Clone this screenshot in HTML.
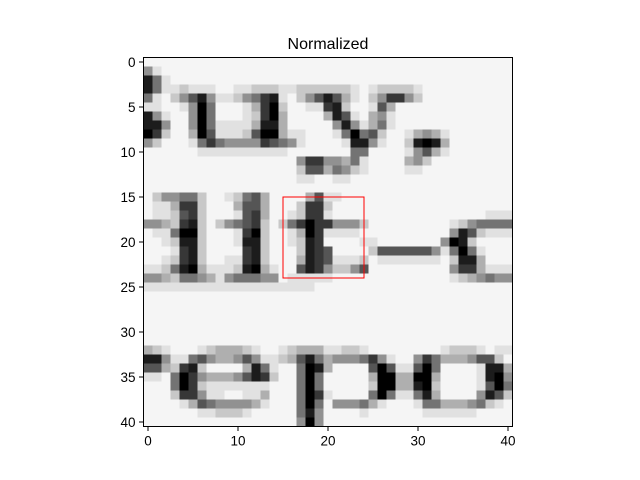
<!DOCTYPE html>
<html><head><meta charset="utf-8"><style>
html,body{margin:0;padding:0;background:#fff;width:640px;height:480px;overflow:hidden}
svg text{font-family:"Liberation Sans","DejaVu Sans",sans-serif;fill:#000}
</style></head><body>
<svg id="chart" width="640" height="480" xmlns="http://www.w3.org/2000/svg">
<text x="328" y="49" font-size="16" text-anchor="middle">Normalized</text>
<g id="cells" shape-rendering="crispEdges"></g>
<g id="axes"></g>
</svg>
<script>
// pixel intensity levels (0=black .. 9=white), one string per image row
const rows = [
"99999999999999999999999999999999999999999",
"58999999999999999999999999999999999999999",
"14899999999999999999999999999999999999999",
"14887888998877788777777898777789999999999",
"48975315887542189753136897522579999999999",
"88998504999862079988217998369999999999999",
"15899504999872069999613896589999999999999",
"11599504888861169999951586489999999999999",
"02799603888730068899984043799865689999999",
"57999842455552345899998115899710169999999",
"99999988888888889999999449999853689999999",
"99999999999999999522556489999657999999999",
"99999999999999999733645789999889999999999",
"99999999999999999889988999999999999999999",
"99999999999999999999999999999999999999999",
"97554479987436999963889999999999999999999",
"98862279996336999722799999999999999999999",
"98873279998326998722899999999999999999888",
"55672179754327974202255579999999998754444",
"98840079998207998602888899999999995137888",
"99871179998117998712999988999999950179999",
"99982179999217999712399997333333584048999",
"99872179988217999612388879888888897116999",
"88741068887106899312577539999999995226888",
"55674456854445598888899999999999998765455",
"88888888888888888889999999999999999999999",
"99999999999999999999999999999999999999999",
"99999999999999999999999999999999999999999",
"99999999999999999999999999999999999999999",
"99999999999999999999999999999999999999999",
"99999999999999999999999999999999999999999",
"99999999999999999999999999999999999999999",
"67899987666789987666887789999999987778988",
"11588435665358876314655542589952466653379",
"33672179999614899401699993038830499998116",
"88940256665312799404999996006600699998105",
"99940278888888999404999997006610799998304",
"99972258899886999402899994048841699995137",
"99998634555568999404955546899984466654789",
"99999988777899999415999989999998888889999",
"99999999999999999505999999999999999999999"
];
const levels = [0,28,55,85,115,145,175,200,225,245];
const xTicks = [0,10,20,30,40];
const yTicks = [0,5,10,15,20,25,30,35,40];
const rectBox = [15,15,24,24];

const NS="http://www.w3.org/2000/svg";
const X0=143.5, Y0=57.5, CELL=9;
const n = rows.length;
const sx = v => X0 + (v+0.5)*CELL;
const sy = v => Y0 + (v+0.5)*CELL;
const cells=document.getElementById('cells'), axes=document.getElementById('axes');
function mk(tag, attrs, parent){const e=document.createElementNS(NS,tag);for(const k in attrs)e.setAttribute(k,attrs[k]);parent.appendChild(e);return e;}
rows.forEach((row,r)=>{
  for(let c=0;c<row.length;c++){
    const g=levels[+row[c]];
    const e=mk('rect',{x:sx(c-0.5),y:sy(r-0.5),width:CELL+0.3,height:CELL+0.3,fill:`rgb(${g},${g},${g})`},cells);
    
    
  }
});
const rr=mk('rect',{x:sx(rectBox[0]),y:sy(rectBox[1]),width:sx(rectBox[2])-sx(rectBox[0]),height:sy(rectBox[3])-sy(rectBox[1]),fill:'none',stroke:'#ff0000','stroke-width':1},axes);


const fr=mk('rect',{x:X0,y:Y0,width:n*CELL,height:n*CELL,fill:'none',stroke:'#000','stroke-width':1},axes);


const bottom=Y0+n*CELL;
xTicks.forEach(t=>{
  const l=mk('line',{x1:sx(t),x2:sx(t),y1:bottom,y2:bottom+4.5,stroke:'#000','stroke-width':1},axes);
  
  
  const tx=mk('text',{x:sx(t),y:bottom+19,'font-size':13.5,'text-anchor':'middle'},axes);
  tx.textContent=t;
  
  
});
yTicks.forEach(t=>{
  const l=mk('line',{x1:X0-4.5,x2:X0,y1:sy(t),y2:sy(t),stroke:'#000','stroke-width':1},axes);
  
  
  const tx=mk('text',{x:X0-8,y:sy(t)+5,'font-size':13.5,'text-anchor':'end'},axes);
  tx.textContent=t;
  
  
});
</script>
</body></html>
